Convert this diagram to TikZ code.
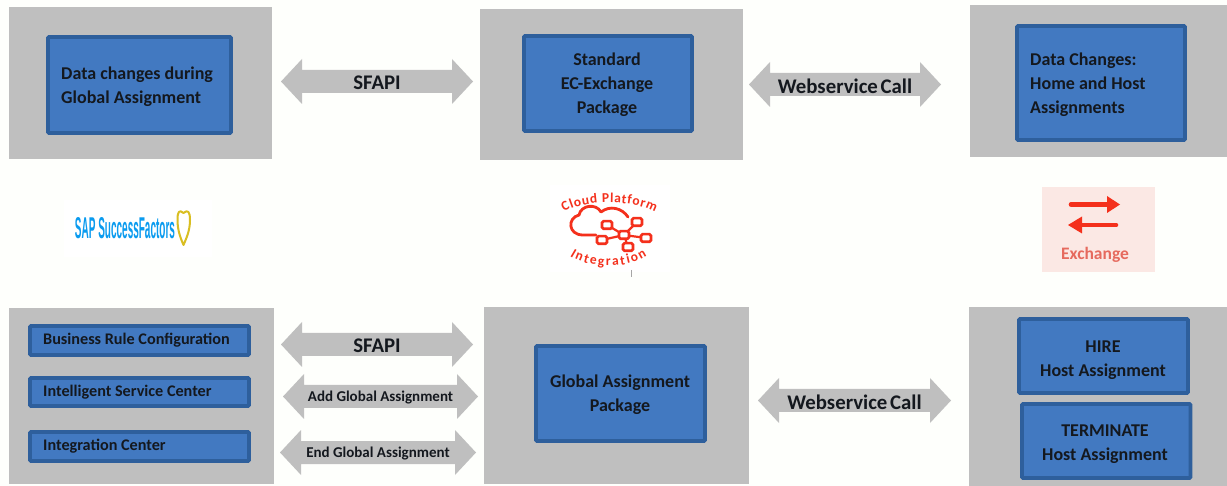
\documentclass[tikz,border=0pt]{standalone}
\usepackage{fontspec}
\usepackage{graphicx}
\setmainfont{Carlito}
\newfontfamily\logofont{Liberation Sans}
\usetikzlibrary{decorations.text}
\definecolor{panelgrey}{HTML}{BFBFBF}
\definecolor{bluefill}{HTML}{4279C1}
\definecolor{blueline}{HTML}{2E5F9C}
\definecolor{textdark}{HTML}{14181E}
\definecolor{paper}{HTML}{FEFFFC}
\definecolor{logored}{HTML}{F4301C}
\definecolor{sapblue}{HTML}{0A9BEF}
\definecolor{sapgold}{HTML}{D9BE22}
\definecolor{exbg}{HTML}{FBE8E4}
\definecolor{extext}{HTML}{E66A5E}
\tikzset{
  panel/.style={fill=panelgrey,draw=none},
  bluebox/.style={fill=bluefill,draw=blueline,line width=3.6pt,rounded corners=1pt},
  boxtext/.style={text=textdark,font=\fontsize{18}{24}\selectfont\bfseries,align=left,inner sep=0pt},
  boxcenter/.style={boxtext,align=center},
  smalltext/.style={text=textdark,font=\fontsize{16.2}{24}\selectfont\bfseries,anchor=west,inner sep=0pt},
  arrowshape/.style={fill=panelgrey,draw=none},
  arrowlarge/.style={text=textdark,font=\fontsize{20.8}{22}\selectfont\bfseries,inner sep=0pt},
  arrowsmall/.style={text=textdark,font=\fontsize{15}{18}\selectfont\bfseries,inner sep=0pt},
  logoline/.style={logored,line width=2.8pt,line cap=round,line join=round},
  logonet/.style={logored,line width=2.6pt,fill=white,rounded corners=1.5pt},
}
% #1 name, #2 x left tip, #3 x right tip, #4 y centre, #5 label style, #6 label
\newcommand{\blockarrow}[6]{%
  \fill[arrowshape] (#2,#4) -- ++(21,-22.5) -- ++(0,11) -- (#3-21,#4-11.5) -- ++(0,-11) -- (#3,#4)
    -- ++(-21,22.5) -- ++(0,-11) -- (#2+21,#4+11.5) -- ++(0,11) -- cycle;
  \node[#5] (#1) at ({(#2+#3)/2},#4+1.5) {#6};
}
\begin{document}
\begin{tikzpicture}[x=1pt,y=-1pt]
\useasboundingbox (0,0) rectangle (1227,486);
\fill[paper] (0,0) rectangle (1227,486);
% panels
\fill[panel] (9,7) rectangle (272,159);
\fill[panel] (480,9) rectangle (743,160);
\fill[panel] (970,5) rectangle (1227,157);
\fill[panel] (9,308) rectangle (274,484);
\fill[panel] (484,307) rectangle (749,484);
\fill[panel] (969,307) rectangle (1227,486);
% blue boxes
\draw[bluebox] (48,37) rectangle (231,133);
\draw[bluebox] (524,36) rectangle (692,131);
\draw[bluebox] (1017,26) rectangle (1185,140);
\draw[bluebox] (30,326) rectangle (249,355);
\draw[bluebox] (30,378) rectangle (249,406);
\draw[bluebox] (30,432) rectangle (249,461);
\draw[bluebox] (536,346) rectangle (705,441);
\draw[bluebox] (1019,319) rectangle (1188,393);
\draw[bluebox] (1022,404) rectangle (1190.5,478);
% box labels
\node[boxtext,anchor=west] (t1) at (61,87) {Data changes during\\Global Assignment};
\node[boxcenter] (t2) at (607,85) {Standard\\EC-Exchange\\Package};
\node[boxtext,anchor=west] (t3) at (1030,85) {Data Changes:\\Home and Host\\Assignments};
\node[smalltext] (t4) at (43,340) {Business Rule Configuration};
\node[smalltext] (t5) at (43,392) {Intelligent Service Center};
\node[smalltext] (t6) at (43,446) {Integration Center};
\node[boxcenter] (t7) at (620,395) {Global Assignment\\Package};
\node[boxcenter] (t8) at (1103,360) {HIRE\\Host Assignment};
\node[boxcenter] (t9) at (1105,444) {TERMINATE\\Host Assignment};
% block arrows
\blockarrow{a1}{281}{473}{81.5}{arrowlarge}{SFAPI}
\blockarrow{a2}{749}{941}{84.5}{arrowlarge}{Webservice\hspace{-2pt} Call}
\blockarrow{a3}{281}{473}{344.5}{arrowlarge}{SFAPI}
\blockarrow{a4}{283}{478}{396.5}{arrowsmall}{Add Global Assignment}
\blockarrow{a5}{280}{476}{452.5}{arrowsmall}{End Global Assignment}
\blockarrow{a6}{758}{951}{400.5}{arrowlarge}{Webservice\hspace{-2pt} Call}
% SAP logo
\fill[white] (64,200) rectangle (212,257);
\node[text=sapblue,inner sep=0pt] (sap) at (125,228) {\resizebox{100pt}{21pt}{\logofont\bfseries SAP SuccessFactors}};
\draw[sapgold,line width=2pt,line join=round] (183.5,213) .. controls (179,209) and (177.5,212) .. (177.5,220) .. controls (177.5,231) and (181,239) .. (183.5,245) .. controls (186,239) and (190,231) .. (190,220) .. controls (190,212) and (188,209) .. (183.5,213) -- cycle;
% Cloud platform logo
\fill[white] (550,185) rectangle (670,272);
\path[postaction={decorate,decoration={text along path,text align={fit to path},
   text={|\fontsize{13.5}{14}\selectfont\bfseries\color{logored}|Cloud Platform}}}]
   (564,212) .. controls (584,199.5) and (634,199.5) .. (655,212);
\path[postaction={decorate,decoration={text along path,text align={fit to path},
   text={|\fontsize{13.5}{14}\selectfont\bfseries\color{logored}|Integration}}}]
   (570,256) .. controls (590,269) and (628,269) .. (647,256);
\draw[logoline]
   (596,235) -- (583,235) .. controls (568,235) and (567,218) .. (579,215) .. controls (581,205) and (596,203) .. (601,212) .. controls (610,205) and (622,208) .. (628,217);
\draw[logored,line width=2.2pt] (607,225) -- (624,235) (637,222) -- (624,235) (602,240) -- (624,235) (646,238) -- (624,235) (628,247) -- (624,235);
\foreach \n/\x/\y in {c1/607/225,c2/637/222,c3/624/235,c4/602/240,c5/646/238,c6/628/247}{
  \draw[logonet] (\x-5,\y-3.8) rectangle (\x+5,\y+3.8);
}
\draw[gray!70,line width=.6pt] (631,270) -- (631,277);
% Exchange logo
\fill[exbg] (1042,187) rectangle (1155,272);
\draw[logored,line width=4.6pt,line cap=round] (1071,204.5) -- (1110,204.5);
\fill[logored] (1107,196) -- (1120,204.5) -- (1107,213) -- cycle;
\draw[logored,line width=4.6pt,line cap=round] (1080,225) -- (1116,225);
\fill[logored] (1082,216.5) -- (1068,225) -- (1082,233.5) -- cycle;
\node[text=extext,font=\fontsize{17.5}{18}\selectfont\bfseries,inner sep=0pt] (ex) at (1095,255) {Exchange};
\end{tikzpicture}
\end{document}
